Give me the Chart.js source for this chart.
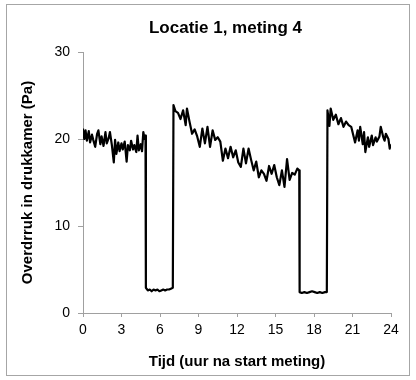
<!DOCTYPE html>
<html>
<head>
<meta charset="utf-8">
<script src="https://cdn.jsdelivr.net/npm/chart.js@4"></script>
<style>
  html, body { margin: 0; padding: 0; background: #fff; }
  canvas { display: block; }
</style>
</head>
<body>
<canvas id="chart" width="416" height="380"></canvas>
<script>
// Pressure in the chamber over 24 hours (two periods with the fan off)
const timeHours = [
  0.00, 0.10, 0.20, 0.30, 0.45, 0.55, 0.70, 0.80, 0.95, 1.10,
  1.20, 1.35, 1.45, 1.60, 1.75, 1.85, 2.00, 2.10, 2.25, 2.40,
  2.50, 2.60, 2.75, 2.85, 3.00, 3.10, 3.25, 3.40, 3.50, 3.65,
  3.75, 3.90, 4.00, 4.15, 4.25, 4.35, 4.50, 4.60, 4.70, 4.80,
  4.87,
  4.90, 5.05, 5.20, 5.35, 5.50, 5.65, 5.80, 5.95, 6.10, 6.25,
  6.40, 6.55, 6.70, 6.85, 7.00,
  7.05, 7.20, 7.40, 7.60, 7.80, 8.00, 8.10, 8.30, 8.50, 8.70,
  8.90, 9.10, 9.30, 9.50, 9.70, 9.90, 10.10, 10.30, 10.50, 10.70,
  10.90, 11.10, 11.30, 11.50, 11.70, 11.90, 12.10, 12.30, 12.50, 12.70,
  12.90, 13.10, 13.30, 13.50, 13.70, 13.90, 14.10, 14.30, 14.50, 14.70,
  14.90, 15.10, 15.30, 15.50, 15.70, 15.90, 16.10, 16.30, 16.50, 16.70,
  16.85,
  16.88, 17.05, 17.25, 17.45, 17.65, 17.85, 18.05, 18.25, 18.45, 18.65,
  18.85, 19.00,
  19.05, 19.20, 19.30, 19.50, 19.70, 19.90, 20.10, 20.30, 20.50, 20.70,
  20.90, 21.10, 21.20, 21.40, 21.50, 21.60, 21.80, 21.90, 22.00, 22.20,
  22.30, 22.50, 22.60, 22.80, 22.90, 23.10, 23.20, 23.40, 23.50, 23.60,
  23.80, 23.90, 23.95
];
const pressurePa = [
  21.2, 20.0, 21.0, 19.8, 20.9, 19.6, 20.5, 19.9, 19.1, 20.6,
  21.0, 19.4, 20.3, 19.2, 20.8, 19.5, 20.1, 20.8, 19.3, 17.3,
  19.9, 18.3, 19.6, 18.6, 19.5, 18.8, 19.7, 17.4, 19.3, 18.7,
  19.8, 18.8, 19.3, 18.5, 20.4, 18.7, 19.4, 18.6, 20.8, 20.0,
  20.4,
  2.9, 2.6, 2.7, 2.5, 2.7, 2.6, 2.7, 2.5, 2.6, 2.7,
  2.6, 2.7, 2.7, 2.8, 2.9,
  23.9, 23.2, 23.0, 22.3, 23.3, 21.6, 23.5, 22.0, 20.6, 21.1,
  20.3, 19.1, 21.2, 19.5, 21.4, 19.1, 21.0, 19.9, 20.2, 19.7,
  17.5, 18.9, 17.8, 19.1, 17.9, 18.7, 17.3, 16.8, 18.9, 17.2,
  18.9, 17.6, 16.4, 17.4, 15.6, 16.4, 16.0, 15.2, 16.9, 16.0,
  17.0, 15.6, 14.7, 16.4, 14.5, 17.7, 15.3, 16.1, 15.9, 16.6,
  16.4,
  2.4, 2.3, 2.4, 2.3, 2.4, 2.5, 2.4, 2.3, 2.4, 2.3,
  2.4, 2.4,
  23.3, 21.5, 23.5, 22.2, 22.8, 21.7, 22.4, 21.4, 22.0, 21.6,
  21.4, 20.2, 19.6, 21.0, 19.8, 21.4, 19.4, 20.8, 18.5, 20.2,
  19.1, 20.4, 19.3, 20.2, 19.7, 20.3, 21.4, 20.2, 19.8, 20.6,
  20.0, 18.9, 19.4
];
const xTickValues = [0, 3, 6, 9, 12, 15, 18, 21, 24];
const yTickValues = [0, 10, 20, 30];

const chartTitle = 'Locatie 1, meting 4';
const xTitle = 'Tijd (uur na start meting)';
const yTitle = 'Overdrruk in drukkamer (Pa)';

const FONT = "'Liberation Sans', Arial, sans-serif";
const AXIS_GREY = '#a0a0a0';
Chart.defaults.font.family = FONT;
Chart.defaults.color = '#000';

// White page with a thin grey frame, and the heading above the plot
const framePlugin = {
  id: 'frame',
  beforeDraw(chart) {
    const c = chart.ctx;
    c.save();
    c.fillStyle = '#fff';
    c.fillRect(0, 0, chart.width, chart.height);
    c.strokeStyle = '#a6a6a6';
    c.lineWidth = 1;
    c.strokeRect(6.5, 4.5, 403, 371);
    c.restore();
  },
  afterDraw(chart) {
    const c = chart.ctx;
    c.save();
    c.fillStyle = '#000';
    c.font = 'bold 17px ' + FONT;
    c.textAlign = 'center';
    c.textBaseline = 'alphabetic';
    c.fillText(chartTitle, 225.5, 33);
    c.restore();
  }
};

const points = timeHours.map((t, i) => ({ x: t, y: pressurePa[i] }));

new Chart(document.getElementById('chart'), {
  type: 'line',
  data: {
    datasets: [{
      data: points,
      borderColor: '#000',
      borderWidth: 2.2,
      borderJoinStyle: 'round',
      pointRadius: 0,
      tension: 0,
      fill: false
    }]
  },
  options: {
    responsive: false,
    animation: false,
    devicePixelRatio: 1,
    layout: { padding: { left: 0, right: 25, top: 52, bottom: 0 } },
    plugins: {
      legend: { display: false },
      tooltip: { enabled: false },
      title: { display: false }
    },
    scales: {
      x: {
        type: 'linear',
        min: 0,
        max: 24,
        afterBuildTicks: s => { s.ticks = xTickValues.map(v => ({ value: v })); },
        afterFit: s => { s.height = 67; },
        ticks: { color: '#000', font: { size: 14 }, padding: 5, maxRotation: 0, autoSkip: false },
        grid: { drawOnChartArea: false, drawTicks: true, tickLength: 4, color: AXIS_GREY },
        border: { display: true, color: AXIS_GREY, width: 1 },
        title: {
          display: true,
          text: xTitle,
          color: '#000',
          font: { size: 15, weight: 'bold' },
          padding: { top: 0, bottom: 9 }
        }
      },
      y: {
        min: 0,
        max: 30,
        afterBuildTicks: s => { s.ticks = yTickValues.map(v => ({ value: v })); },
        afterFit: s => { s.width = 83; },
        ticks: { color: '#000', font: { size: 14 }, padding: 8 },
        grid: { drawOnChartArea: false, drawTicks: true, tickLength: 5, color: AXIS_GREY },
        border: { display: true, color: AXIS_GREY, width: 1 },
        title: {
          display: true,
          text: yTitle,
          color: '#000',
          font: { size: 15, weight: 'bold' },
          padding: { top: 19, bottom: 0 }
        }
      }
    }
  },
  plugins: [framePlugin]
});
</script>
</body>
</html>
